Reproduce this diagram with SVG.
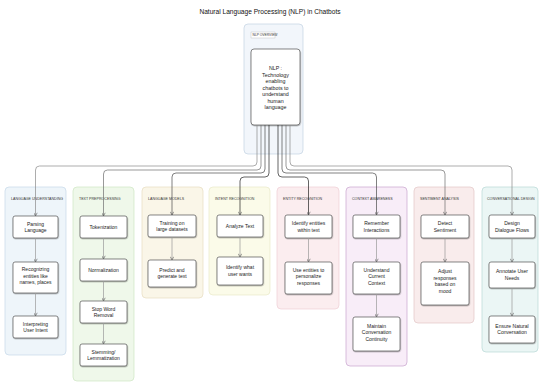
<svg xmlns="http://www.w3.org/2000/svg" width="540" height="383" viewBox="0 0 540 383">
<defs>
<style>
.title{font-family:"Liberation Sans",Arial,sans-serif;font-size:6.6px;fill:#111;text-anchor:middle}
.glabel{font-family:"Liberation Sans",Arial,sans-serif;font-size:3.6px;fill:#333}
.nt{font-family:"Liberation Sans",Arial,sans-serif;font-size:5px;fill:#222;text-anchor:middle}
.node{fill:#fff;stroke:#555;stroke-width:0.7;filter:url(#sh)}
.grp{stroke-width:0.7}
.c{fill:none;stroke:#666;stroke-width:0.7}
.c1{stroke:#8a8a8a}.c2{stroke:#6e6e6e}.c3{stroke:#4a4a4a}.c4{stroke:#222}
.a{fill:none;stroke:#999;stroke-width:0.7}
</style>
<filter id="sh" x="-20%" y="-20%" width="140%" height="150%">
<feDropShadow dx="0.4" dy="0.8" stdDeviation="0.5" flood-color="#000" flood-opacity="0.35"/>
</filter>
<marker id="ah" viewBox="0 0 4 4" refX="3.6" refY="2" markerWidth="4" markerHeight="4" markerUnits="userSpaceOnUse" orient="auto">
<path d="M0.4,0.3 L3.6,2 L0.4,3.7" fill="none" stroke="#555" stroke-width="0.6"/>
</marker>
</defs>
<rect width="540" height="383" fill="#fff"/>
<text class="title" x="270" y="14">Natural Language Processing (NLP) in Chatbots</text>

<g id="overview">
<rect x="244" y="24" width="59" height="130" rx="4" fill="#f2f6fb" stroke="#c3d3e3" stroke-width="0.7"/>
<rect x="251" y="32" width="24" height="6" fill="#fff" stroke="#bbb" stroke-width="0.4"/>
<text class="glabel" x="252.5" y="36.3" style="font-size:3.3px">NLP OVERVIEW</text>
</g>
<g id="nlp">
<rect class="node" x="251" y="49" width="49" height="76" rx="3"/>
<text class="nt" x="275.5" style="font-size:5.3px"><tspan x="275.5" y="70">NLP :</tspan><tspan x="275.5" y="76.5">Technology</tspan><tspan x="275.5" y="83">enabling</tspan><tspan x="275.5" y="89.5">chatbots to</tspan><tspan x="275.5" y="96">understand</tspan><tspan x="275.5" y="102.5">human</tspan><tspan x="275.5" y="109">language</tspan></text>
</g>

<g id="g-understanding">
<rect class="grp" x="5" y="187" width="61" height="168" rx="4" fill="#eef5fa" stroke="#c5d8e8"/>
<text class="glabel" x="11" y="199.5">LANGUAGE UNDERSTANDING</text>
<g id="n-parsing"><rect class="node" x="13" y="216" width="45" height="22" rx="2"/><text class="nt"><tspan x="35.5" y="225.5">Parsing</tspan><tspan x="35.5" y="232">Language</tspan></text></g>
<g id="n-recognizing"><rect class="node" x="13" y="262" width="45" height="31" rx="2"/><text class="nt"><tspan x="35.5" y="271">Recognizing</tspan><tspan x="35.5" y="277.5">entities like</tspan><tspan x="35.5" y="284">names, places</tspan></text></g>
<g id="n-interpreting"><rect class="node" x="13" y="316" width="45" height="22" rx="2"/><text class="nt"><tspan x="35.5" y="325.5">Interpreting</tspan><tspan x="35.5" y="332">User Intent</tspan></text></g>
</g>

<g id="g-preprocessing">
<rect class="grp" x="73" y="187" width="61" height="194" rx="4" fill="#eff8ea" stroke="#cfe6c3"/>
<text class="glabel" x="79" y="199.5">TEXT PREPROCESSING</text>
<g id="n-token"><rect class="node" x="80" y="216" width="47" height="22" rx="2"/><text class="nt" x="103.5" y="228.8">Tokenization</text></g>
<g id="n-norm"><rect class="node" x="80" y="259" width="47" height="22" rx="2"/><text class="nt" x="103.5" y="271.8">Normalization</text></g>
<g id="n-stop"><rect class="node" x="80" y="301" width="47" height="22" rx="2"/><text class="nt"><tspan x="103.5" y="310.5">Stop Word</tspan><tspan x="103.5" y="317">Removal</tspan></text></g>
<g id="n-stem"><rect class="node" x="80" y="344" width="47" height="22" rx="2"/><text class="nt"><tspan x="103.5" y="353.5">Stemming/</tspan><tspan x="103.5" y="360">Lemmatization</tspan></text></g>
</g>

<g id="g-models">
<rect class="grp" x="142" y="187" width="61" height="111" rx="4" fill="#faf6e8" stroke="#e6dcc0"/>
<text class="glabel" x="148" y="199.5">LANGUAGE MODELS</text>
<g id="n-training"><rect class="node" x="148" y="215" width="48" height="22" rx="2"/><text class="nt"><tspan x="172" y="224.5">Training on</tspan><tspan x="172" y="231">large datasets</tspan></text></g>
<g id="n-predict"><rect class="node" x="148" y="260" width="48" height="27" rx="2"/><text class="nt"><tspan x="172" y="271.5">Predict and</tspan><tspan x="172" y="278">generate text</tspan></text></g>
</g>

<g id="g-intent">
<rect class="grp" x="209" y="187" width="61" height="108" rx="4" fill="#fbfbe9" stroke="#eaeac8"/>
<text class="glabel" x="215" y="199.5">INTENT RECOGNITION</text>
<g id="n-analyze"><rect class="node" x="217" y="215" width="46" height="22" rx="2"/><text class="nt" x="240" y="227.8">Analyze Text</text></g>
<g id="n-identify"><rect class="node" x="217" y="257" width="46" height="28" rx="2"/><text class="nt"><tspan x="240" y="269">Identify what</tspan><tspan x="240" y="275.5">user wants</tspan></text></g>
</g>

<g id="g-entity">
<rect class="grp" x="277" y="187" width="62" height="122" rx="4" fill="#fbedef" stroke="#efcfd5"/>
<text class="glabel" x="283" y="199.5">ENTITY RECOGNITION</text>
<g id="n-entities"><rect class="node" x="285" y="215" width="47" height="23" rx="2"/><text class="nt"><tspan x="308.5" y="225">Identify entities</tspan><tspan x="308.5" y="231.5">within text</tspan></text></g>
<g id="n-use"><rect class="node" x="285" y="262" width="47" height="32" rx="2"/><text class="nt"><tspan x="308.5" y="271.5">Use entities to</tspan><tspan x="308.5" y="278">personalize</tspan><tspan x="308.5" y="284.5">responses</tspan></text></g>
</g>

<g id="g-context">
<rect class="grp" x="346" y="187" width="61" height="179" rx="4" fill="#f8edf8" stroke="#c9a3cf"/>
<text class="glabel" x="352" y="199.5">CONTEXT AWARENESS</text>
<g id="n-remember"><rect class="node" x="353" y="215" width="47" height="23" rx="2"/><text class="nt"><tspan x="376.5" y="225">Remember</tspan><tspan x="376.5" y="231.5">Interactions</tspan></text></g>
<g id="n-understand"><rect class="node" x="353" y="262" width="47" height="32" rx="2"/><text class="nt"><tspan x="376.5" y="271.5">Understand</tspan><tspan x="376.5" y="278">Current</tspan><tspan x="376.5" y="284.5">Context</tspan></text></g>
<g id="n-maintain"><rect class="node" x="353" y="317" width="47" height="34" rx="2"/><text class="nt"><tspan x="376.5" y="327.5">Maintain</tspan><tspan x="376.5" y="334">Conversation</tspan><tspan x="376.5" y="340.5">Continuity</tspan></text></g>
</g>

<g id="g-sentiment">
<rect class="grp" x="414" y="187" width="60" height="136" rx="4" fill="#f9ecec" stroke="#e3c5c5"/>
<text class="glabel" x="420" y="199.5">SENTIMENT ANALYSIS</text>
<g id="n-detect"><rect class="node" x="421" y="215" width="48" height="23" rx="2"/><text class="nt"><tspan x="445" y="225">Detect</tspan><tspan x="445" y="231.5">Sentiment</tspan></text></g>
<g id="n-adjust"><rect class="node" x="421" y="262" width="48" height="43" rx="2"/><text class="nt"><tspan x="445" y="273">Adjust</tspan><tspan x="445" y="279.5">responses</tspan><tspan x="445" y="286">based on</tspan><tspan x="445" y="292.5">mood</tspan></text></g>
</g>

<g id="g-design">
<rect class="grp" x="482" y="187" width="56" height="165" rx="4" fill="#ebf6f5" stroke="#b8d9d6"/>
<text class="glabel" x="487" y="199.5">CONVERSATIONAL DESIGN</text>
<g id="n-dialogue"><rect class="node" x="489" y="215" width="46" height="23" rx="2"/><text class="nt"><tspan x="512" y="225">Design</tspan><tspan x="512" y="231.5">Dialogue Flows</tspan></text></g>
<g id="n-annotate"><rect class="node" x="489" y="262" width="46" height="26" rx="2"/><text class="nt"><tspan x="512" y="273">Annotate User</tspan><tspan x="512" y="279.5">Needs</tspan></text></g>
<g id="n-ensure"><rect class="node" x="489" y="316" width="46" height="27" rx="2"/><text class="nt"><tspan x="512" y="327.5">Ensure Natural</tspan><tspan x="512" y="334">Conversation</tspan></text></g>
</g>

<g id="connectors">
<path class="c c1" d="M257,125 V162 Q257,166 253,166 H39.5 Q35.5,166 35.5,170 V216" marker-end="url(#ah)"/>
<path class="c c2" d="M261,125 V166 Q261,170 257,170 H107.5 Q103.5,170 103.5,174 V216" marker-end="url(#ah)"/>
<path class="c c3" d="M265,125 V169 Q265,173 261,173 H176 Q172,173 172,177 V215" marker-end="url(#ah)"/>
<path class="c c4" d="M269,125 V173 Q269,177 265,177 H244 Q240,177 240,181 V215" marker-end="url(#ah)"/>
<path class="c c4" d="M278,125 V173 Q278,177 282,177 H304.5 Q308.5,177 308.5,181 V215" marker-end="url(#ah)"/>
<path class="c c3" d="M282,125 V169 Q282,173 286,173 H372.5 Q376.5,173 376.5,177 V215" marker-end="url(#ah)"/>
<path class="c c2" d="M286,125 V166 Q286,170 290,170 H441 Q445,170 445,174 V215" marker-end="url(#ah)"/>
<path class="c c1" d="M290,125 V162 Q290,166 294,166 H508 Q512,166 512,170 V215" marker-end="url(#ah)"/>

<path class="a" d="M35.5,238 V262" marker-end="url(#ah)"/>
<path class="a" d="M35.5,293 V316" marker-end="url(#ah)"/>
<path class="a" d="M103.5,238 V259" marker-end="url(#ah)"/>
<path class="a" d="M103.5,281 V301" marker-end="url(#ah)"/>
<path class="a" d="M103.5,323 V344" marker-end="url(#ah)"/>
<path class="a" d="M172,237 V260" marker-end="url(#ah)"/>
<path class="a" d="M240,237 V257" marker-end="url(#ah)"/>
<path class="a" d="M308.5,238 V262" marker-end="url(#ah)"/>
<path class="a" d="M376.5,238 V262" marker-end="url(#ah)"/>
<path class="a" d="M376.5,294 V317" marker-end="url(#ah)"/>
<path class="a" d="M445,238 V262" marker-end="url(#ah)"/>
<path class="a" d="M512,238 V262" marker-end="url(#ah)"/>
<path class="a" d="M512,288 V316" marker-end="url(#ah)"/>
</g>
</svg>
